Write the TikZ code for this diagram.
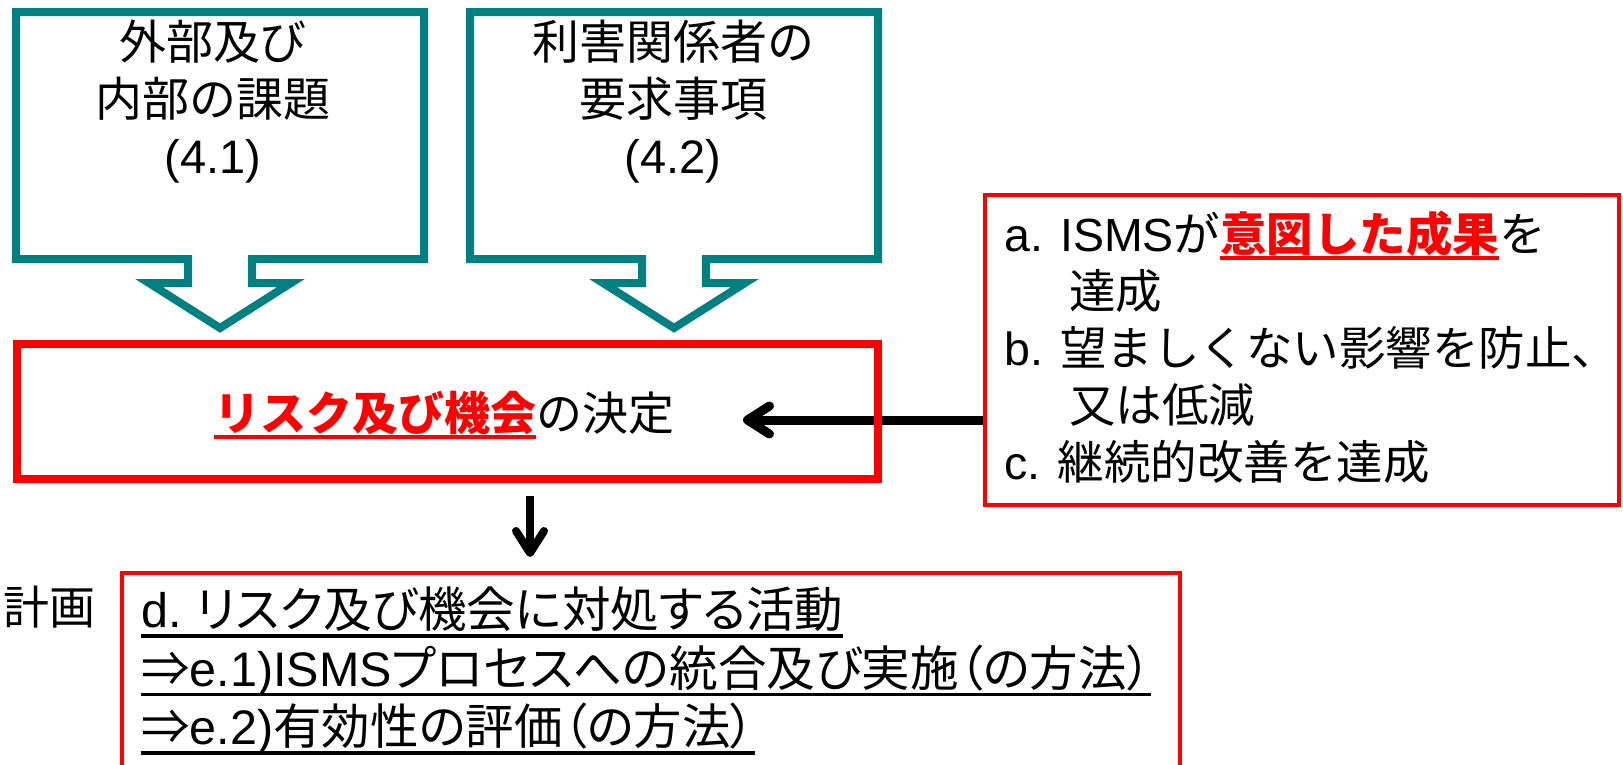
\documentclass[tikz,border=0pt]{standalone}
\usepackage{fontspec}
\setmainfont{Noto Sans CJK JP}
\newfontfamily\jpprop{Noto Sans CJK JP}[RawFeature=+palt]
\newfontfamily\lsans{Liberation Sans}
\usetikzlibrary{arrows.meta,backgrounds}
\definecolor{tealc}{RGB}{0,128,128}
\definecolor{redc}{RGB}{255,0,0}
\newcommand\LS[1]{{\lsans #1}}
\newcommand\ulb[1]{\leavevmode\setbox0=\hbox{#1}\rlap{\raisebox{-10pt}[0pt][0pt]{\rule{\wd0}{3.5pt}}}\box0}
\newcommand\ulr[1]{\leavevmode\setbox0=\hbox{#1}\rlap{\raisebox{-9pt}[0pt][0pt]{\rule{\wd0}{4pt}}}\box0}
\tikzset{
  callout/.style={draw=tealc, line width=8pt, fill=white, line join=miter},
  thickred/.style={draw=redc, line width=8pt, inner sep=0pt},
  thinred/.style={draw=redc, line width=4pt, inner sep=0pt},
  txt/.style={inner sep=0pt, font=\fontsize{47}{57}\selectfont},
  conn/.style={line width=8pt, -{Straight Barb[length=22pt,width=28pt,round]}}
}
\begin{document}
\begin{tikzpicture}[x=1pt,y=-1pt]
\useasboundingbox (0,0) rectangle (1623,764);
% block-arrow callouts
\draw[callout] (16,12) -- (424,12) -- (424,259) -- (252,259) -- (252,283) -- (291,283)
  -- (220,328) -- (149,283) -- (188,283) -- (188,259) -- (16,259) -- cycle;
\draw[callout] (470,12) -- (878,12) -- (878,259) -- (706,259) -- (706,283) -- (745,283)
  -- (674,328) -- (603,283) -- (642,283) -- (642,259) -- (470,259) -- cycle;
\node[txt, align=center] (t41) at (213,102) {外部及び\\内部の課題\\\LS{(4.1)}};
\node[txt, align=center] (t42) at (673,102) {利害関係者の\\要求事項\\\LS{(4.2)}};
% middle box
\node[thickred, minimum width=861.5pt, minimum height=135pt] (mid) at (447.25,411.5) {};
\node[txt, font=\fontsize{46}{57}\selectfont] (midt) at (444,413)
  {{\color{redc}\ulr{\bfseries リスク及び機会}}の決定};
% right box
\node[thinred, minimum width=634.5pt, minimum height=310pt] (rbox) at (1301.75,350) {};
\node[txt, align=left, anchor=west, font=\fontsize{46.5}{57}\selectfont] (rtxt) at (1004,347)
  {\LS{a. ISMS}が{\color{redc}\ulr{\bfseries 意図した成果}}を\\
   \hspace*{65pt}達成\\
   \LS{b. }望ましくない影響を防止、\\
   \hspace*{65pt}又は低減\\
   \LS{c. }継続的改善を達成};
% bottom box
\node[thinred, minimum width=1058pt, minimum height=260pt] (plan) at (651,703) {};
\node[txt, font=\fontsize{46}{57}\selectfont] (keikaku) at (50,607) {計画};
\node[txt, align=left, anchor=north west, font=\fontsize{48.5}{58.5}\selectfont\jpprop] (ptxt) at (141,587)
  {\ulb{\LS{d.} リスク及び機会に対処する活動}\\
   \ulb{⇒\LS{e.1)ISMS}プロセスへの統合及び実施（の方法）}\\
   \ulb{⇒\LS{e.2)}有効性の評価（の方法）}};
% connectors
\coordinate (tipL) at (743,420);
\coordinate (dtop) at (530,496);
\coordinate (dbot) at (530,557);
\begin{pgfonlayer}{background}
\draw[conn, line width=9pt] (rbox.west |- tipL) -- (tipL);
\end{pgfonlayer}
\draw[conn] (dtop) -- (dbot);
\end{tikzpicture}
\end{document}
